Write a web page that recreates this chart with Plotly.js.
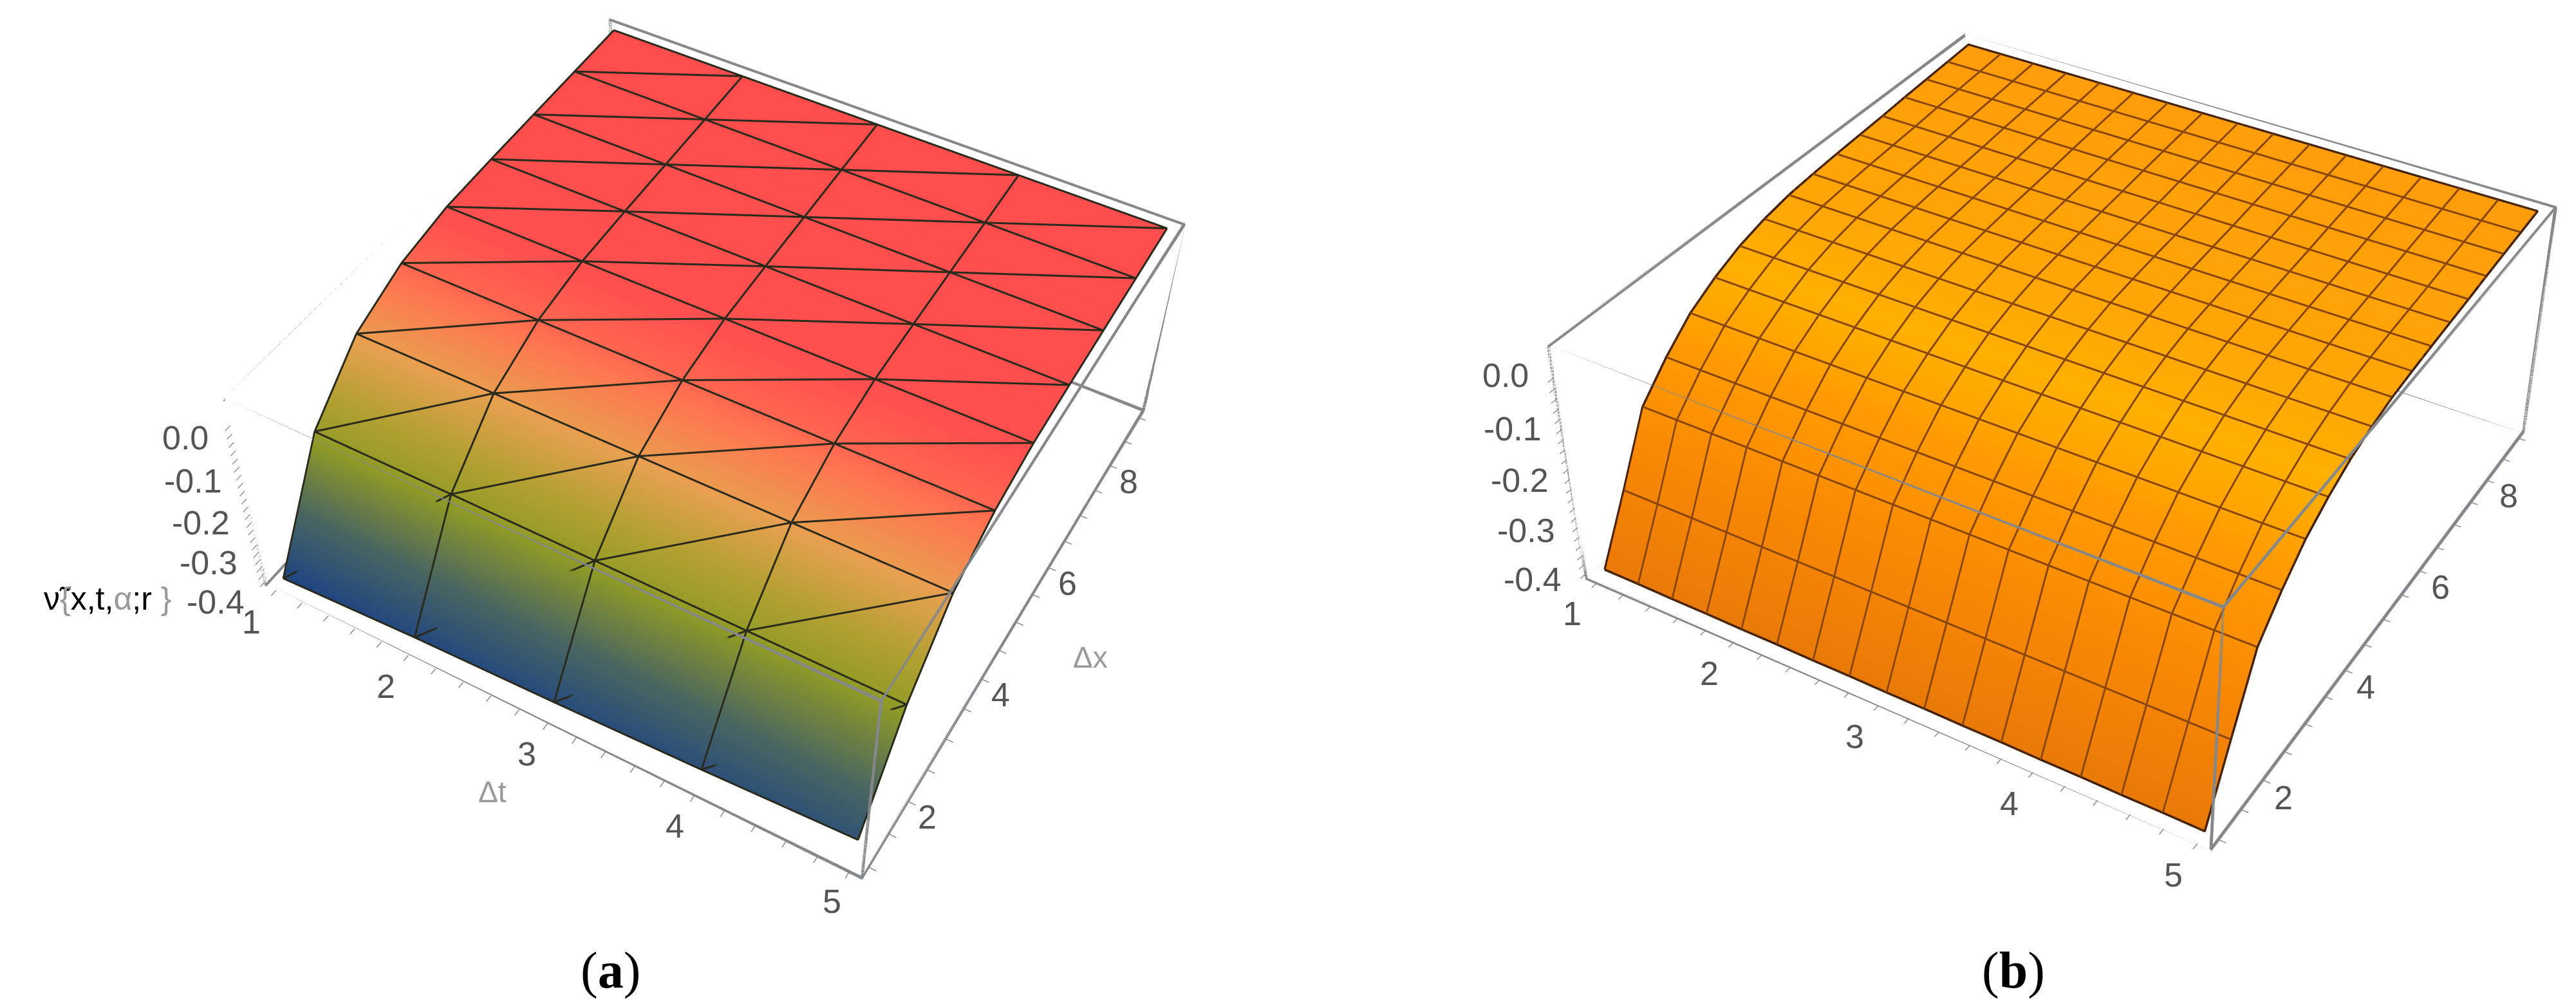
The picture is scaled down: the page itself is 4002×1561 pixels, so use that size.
<!DOCTYPE html>
<html>
<head>
<meta charset="utf-8">
<script src="https://cdn.plot.ly/plotly-3.0.1.min.js"></script>
<style>
html,body{margin:0;padding:0;width:4002px;height:1561px;overflow:hidden;background:#fff;position:relative}
#plot{position:absolute;left:0;top:-840px;width:4400px;height:3110px}
</style>
</head>
<body>
<div id="plot"></div>
<script>
const tGridA = [1, 2, 3, 4, 5];
const xGridA = [1, 2, 3, 4, 5, 6, 7, 8, 9];
const zGridA = [
  [-0.402, -0.387, -0.378, -0.366, -0.350],
  [-0.155, -0.156, -0.158, -0.160, -0.162],
  [-0.040, -0.040, -0.040, -0.040, -0.040],
  [ 0.012,  0.012,  0.012,  0.012,  0.012],
  [ 0.035,  0.035,  0.035,  0.035,  0.035],
  [ 0.042,  0.042,  0.042,  0.042,  0.042],
  [ 0.047,  0.047,  0.047,  0.047,  0.047],
  [ 0.052,  0.052,  0.052,  0.052,  0.052],
  [ 0.057,  0.057,  0.057,  0.057,  0.057]
];
const tGridB = [1,1.25,1.5,1.75,2,2.25,2.5,2.75,3,3.25,3.5,3.75,4,4.25,4.5,4.75,5];
const xGridB = [1,1.5,2,2.5,3,3.5,4,4.5,5,5.5,6,6.5,7,7.5,8,8.5,9];
const zProfileB = [-0.397,-0.278,-0.152,-0.096,-0.050,-0.020,0.003,0.018,0.028,0.033,0.037,0.040,0.043,0.047,0.050,0.053,0.056];
const zLowEdgeB = [-0.398,-0.398,-0.399,-0.399,-0.400,-0.400,-0.401,-0.401,-0.402,-0.402,-0.403,-0.403,-0.404,-0.404,-0.405,-0.405,-0.406];

const tRange = [0.92, 5.08];
const xRange = [0.84, 9.16];
const zRange = [-0.41, 0.06];
const tTickVals = [1,1.2,1.4,1.6,1.8,2,2.2,2.4,2.6,2.8,3,3.2,3.4,3.6,3.8,4,4.2,4.4,4.6,4.8,5];
const xTickVals = [1,1.5,2,2.5,3,3.5,4,4.5,5,5.5,6,6.5,7,7.5,8,8.5,9];
const zTickVals = [-0.4,-0.38,-0.36,-0.34,-0.32,-0.3,-0.28,-0.26,-0.24,-0.22,-0.2,-0.18,-0.16,-0.14,-0.12,-0.1,-0.08,-0.06,-0.04,-0.02,0];
const tLabels = [1,2,3,4,5];
const xLabels = [2,4,6,8];
const zLabels = [-0.4,-0.3,-0.2,-0.1,0];

const colorscaleA = [
  [0,'#1f4583'],[0.25,'#4a6660'],[0.5,'#8f9a26'],[0.62,'#b0a030'],
  [0.78,'#e8a050'],[0.88,'#ff7550'],[0.95,'#ff4f4f'],[1,'#ff4d4d']
];
const colorscaleB = [
  [0,'#ea7a08'],[0.45,'#f98a04'],[0.7,'#ff9a02'],[0.86,'#ffb000'],[0.93,'#ffa805'],[1,'#ff9d0a']
];

const PW = 4400, PH = 3110, TOP = -840;
function domX(a,b){return [a/PW,b/PW];}
function domY(centerScreen,h){const c=centerScreen-TOP;return [1-(c+h/2)/PH,1-(c-h/2)/PH];}
function ax(sx){return sx/PW;}
function ay(sy){return 1-(sy-TOP)/PH;}

function boxTrace(scene,width){
  const [a,b]=tRange,[c,d]=xRange,[e,f]=zRange;
  const corners=[
    [[a,c,e],[b,c,e],[b,d,e],[a,d,e],[a,c,e],[a,c,f],[b,c,f],[b,d,f],[a,d,f],[a,c,f]],
    [[b,c,e],[b,c,f]],[[b,d,e],[b,d,f]],[[a,d,e],[a,d,f]]
  ];
  const X=[],Y=[],Z=[];
  corners.forEach(run=>{run.forEach(p=>{X.push(p[0]);Y.push(p[1]);Z.push(p[2]);});X.push(null);Y.push(null);Z.push(null);});
  return {type:'scatter3d',mode:'lines',scene,x:X,y:Y,z:Z,line:{color:'#85888a',width},hoverinfo:'skip',showlegend:false};
}
function meshTrace(scene,ts,xs,zs,diag,color,width){
  const X=[],Y=[],Z=[],lift=0.0012;
  const brk=()=>{X.push(null);Y.push(null);Z.push(null);};
  const add=(i,j)=>{X.push(ts[j]);Y.push(xs[i]);Z.push(zs[i][j]+lift);};
  for(let i=0;i<xs.length;i++){for(let j=0;j<ts.length;j++)add(i,j);brk();}
  for(let j=0;j<ts.length;j++){for(let i=0;i<xs.length;i++)add(i,j);brk();}
  if(diag){
    for(let k=-(xs.length-1);k<ts.length;k++){
      let drawn=false;
      for(let i=0;i<xs.length;i++){const j=i+k;if(j>=0&&j<ts.length){add(i,j);drawn=true;}}
      if(drawn)brk();
    }
  }
  return {type:'scatter3d',mode:'lines',scene,x:X,y:Y,z:Z,line:{color,width},hoverinfo:'skip',showlegend:false};
}
function rimTrace(scene,ts,xs,zs,color,width){
  const lift=0.0012,X=[],Y=[],Z=[];
  const add=(i,j)=>{X.push(ts[j]);Y.push(xs[i]);Z.push(zs[i][j]+lift);};
  const ni=xs.length-1,nj=ts.length-1;
  for(let j=0;j<=nj;j++)add(0,j);
  for(let i=1;i<=ni;i++)add(i,nj);
  for(let j=nj-1;j>=0;j--)add(ni,j);
  for(let i=ni-1;i>=0;i--)add(i,0);
  return {type:'scatter3d',mode:'lines',scene,x:X,y:Y,z:Z,line:{color,width},hoverinfo:'skip',showlegend:false};
}
const zGridB = xGridB.map((x,i)=>tGridB.map((t,j)=> i===0 ? zLowEdgeB[j] : zProfileB[i]));
const flat={ambient:1,diffuse:0,specular:0,roughness:1,fresnel:0};
function axisBase(range,vals){
  return {range,autorange:false,tickmode:'array',tickvals:vals,showticklabels:false,ticks:'outside',ticklen:10,tickwidth:3,tickcolor:'#85888a',
    showgrid:false,zeroline:false,showbackground:false,showline:false,showspikes:false,title:{text:''}};
}
const tickFont={family:'"Liberation Sans",Arial,sans-serif',size:52,color:'#555'};
function lerp(a,b,f){return a+(b-a)*f;}
function tickAnnots(vals,pos,fmt,s0,s1){
  return vals.map((v,k)=>{
    const f=vals.length>1?k/(vals.length-1):0;
    const p=pos(v);
    return {x:p[0],y:p[1],z:p[2],text:fmt(v),showarrow:false,font:tickFont,xanchor:'center',yanchor:'middle',
      xshift:lerp(s0[0],s1[0],f),yshift:-lerp(s0[1],s1[1],f)};
  });
}
function allTickAnnots(sh){
  return [].concat(
    tickAnnots(tLabels,v=>[v,xRange[0],zRange[0]],v=>String(v),sh.t0,sh.t1),
    tickAnnots(xLabels,v=>[tRange[1],v,zRange[0]],v=>String(v),sh.x0,sh.x1),
    tickAnnots(zLabels,v=>[tRange[0],xRange[0],v],v=>v.toFixed(1),sh.z0,sh.z1)
  );
}
function sceneLayout(domain,eye,center,up,sh){
  return {domain,aspectmode:'manual',aspectratio:{x:1,y:1,z:0.4},dragmode:false,
    camera:{eye,center,up,projection:{type:'perspective'}},
    xaxis:axisBase(tRange,tTickVals),yaxis:axisBase(xRange,xTickVals),zaxis:axisBase(zRange,zTickVals),
    annotations:allTickAnnots(sh),
    bgcolor:'rgba(0,0,0,0)'};
}

const traces=[
  {type:'surface',scene:'scene',x:tGridA,y:xGridA,z:zGridA,colorscale:colorscaleA,cmin:-0.4,cmax:0.056,showscale:false,lighting:flat,hoverinfo:'skip'},
  meshTrace('scene',tGridA,xGridA,zGridA,true,'#2a2a1c',6),
  boxTrace('scene',7),boxTrace('scene',8),boxTrace('scene',10),
  {type:'surface',scene:'scene2',x:tGridB,y:xGridB,z:zGridB,colorscale:colorscaleB,cmin:-0.4,cmax:0.056,showscale:false,lighting:flat,hoverinfo:'skip'},
  meshTrace('scene2',tGridB,xGridB,zGridB,false,'#8a4606',6),
  rimTrace('scene2',tGridB,xGridB,zGridB,'#3a1c00',7),
  boxTrace('scene2',7),boxTrace('scene2',8),boxTrace('scene2',10)
];

const labelFont={family:'"Liberation Sans",Arial,sans-serif',size:46,color:'#999'};
const capFont={family:'"Liberation Serif","Times New Roman",serif',size:80,color:'#000'};
function paperText(x,y,text,font){return {xref:'paper',yref:'paper',x:ax(x),y:ay(y),text,showarrow:false,font,xanchor:'center',yanchor:'middle'};}
const layout={
  width:PW,height:PH,margin:{l:0,r:0,t:0,b:0},paper_bgcolor:'#fff',showlegend:false,
  scene:sceneLayout({x:domX(162,2050),y:domY(624,2796)},{x:1.079,y:-1.958,z:2.339},{x:-0.0167,y:-0.0051,z:0.004},{x:-0.0069,y:-0.0041,z:1},
    {t0:[-38,49],t1:[-27,46],x0:[30,24],x1:[29,25],z0:[-77,31],z1:[-70,19]}),
  scene2:sceneLayout({x:domX(2050,4390),y:domY(716,3096)},{x:1.413,y:-2.355,z:2.014},{x:0.0306,y:-0.0513,z:-0.0766},{x:0,y:0,z:1},
    {t0:[-38,47],t1:[-37,49],x0:[32,27],x1:[34,24],z0:[-82,8],z1:[-74,-4]}),
  annotations:[
    paperText(765,1230,'Δt',labelFont),
    paperText(1694,1021,'Δx',labelFont),
    paperText(167,930,'ν̃<span style="color:#999">{</span>x,t,<span style="color:#999">α</span>;r <span style="color:#999">}</span>',
      {family:'"Liberation Sans",Arial,sans-serif',size:50,color:'#000'}),
    paperText(948,1507,'(<b>a</b>)',capFont),
    paperText(3128,1507,'(<b>b</b>)',capFont)
  ]
};
Plotly.newPlot('plot',traces,layout,{displayModeBar:false,responsive:false});
</script>
</body>
</html>
